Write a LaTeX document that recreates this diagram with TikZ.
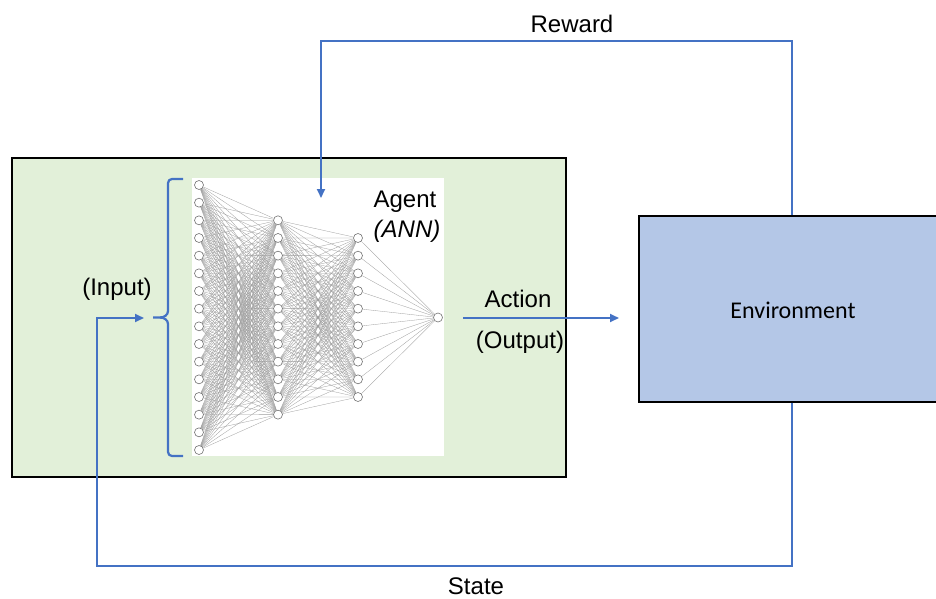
\documentclass[tikz,border=0pt]{standalone}
\usepackage{fontspec}
\setmainfont{Liberation Sans}
\newfontfamily\envfont{Carlito}
\usetikzlibrary{arrows.meta}
\definecolor{panelgreen}{HTML}{E2F0D9}
\definecolor{envblue}{HTML}{B4C7E7}
\definecolor{linkblue}{HTML}{4472C4}
\pgfdeclarelayer{bottom}
\pgfdeclarelayer{edges}
\pgfsetlayers{bottom,edges,main}
\begin{document}
\begin{tikzpicture}[x=1pt,y=-1pt,
  neuron/.style={circle,draw=black!55,line width=0.6pt,fill=white,inner sep=0pt,minimum size=9pt},
  synapse/.style={black!38,line width=0.3pt},
  flow/.style={linkblue,line width=1.8pt},
  flowarrow/.style={flow,-{Triangle[length=9pt,width=8pt]}},
  lbl/.style={font=\fontsize{24}{28}\selectfont,inner sep=0pt,anchor=base},
  box/.style={draw=black,line width=1.4pt,inner sep=0pt}]
\clip (0,0) rectangle (936,599);

% agent area and environment
\begin{pgfonlayer}{bottom}
  \node[box,fill=panelgreen,minimum width=554pt,minimum height=319pt] (agentbox) at (289,317.5) {};
  \fill[white] (192,178) rectangle (444,456);
\end{pgfonlayer}
\node[box,fill=envblue,minimum width=306pt,minimum height=186pt] (env) at (792,309) {};

% neural network layers
\foreach \k in {1,...,16} \node[neuron] (i\k) at (199,{185+17.667*(\k-1)}) {};
\foreach \k in {1,...,12} \node[neuron] (h\k) at (278,{220.3+17.667*(\k-1)}) {};
\foreach \k in {1,...,10} \node[neuron] (g\k) at (358,{238+17.667*(\k-1)}) {};
\node[neuron] (o) at (438,317.5) {};

\begin{pgfonlayer}{edges}
  \foreach \a in {1,...,16} \foreach \b in {1,...,12} \draw[synapse] (i\a) -- (h\b);
  \foreach \a in {1,...,12} \foreach \b in {1,...,10} \draw[synapse] (h\a) -- (g\b);
  \foreach \a in {1,...,10} \draw[synapse] (g\a) -- (o);
\end{pgfonlayer}

% input brace
\draw[flow,line width=2.2pt] (183,179) -- (172,179) to[out=180,in=90] (168,183) -- (168,311)
  to[out=-90,in=0] (160,317.5) -- (153,317.5);
\draw[flow,line width=2.2pt] (160,317.5) to[out=0,in=90] (168,324) -- (168,452)
  to[out=-90,in=180] (172,456) -- (183,456);

% feedback loops
\coordinate (rtop) at (321,41);
\coordinate (rin) at (321,198);
\coordinate (sbot) at (97,566);
\coordinate (sturn) at (97,318);
\coordinate (sin) at (144,318);
\coordinate (aout) at (463,318);
\coordinate (ain) at (619,318);
\draw[flowarrow] (env.north) |- (rtop) -- (rin);
\draw[flowarrow] (env.south) |- (sbot) -- (sturn) -- (sin);
\draw[flowarrow] (aout) -- (ain);

% labels
\node[lbl] (reward) at (572,33) {Reward};
\node[lbl] (state) at (476,594) {State};
\node[lbl] (agent) at (405,207) {Agent};
\node[lbl,font=\fontsize{24}{28}\selectfont\itshape] (ann) at (407,237) {(ANN)};
\node[lbl] (action) at (518,307) {Action};
\node[lbl] (output) at (520,348) {(Output)};
\node[lbl] (input) at (117,295) {(Input)};
\node[lbl,font=\fontsize{24}{28}\selectfont\envfont] (envlabel) at (793,318) {Environment};
\end{tikzpicture}
\end{document}
